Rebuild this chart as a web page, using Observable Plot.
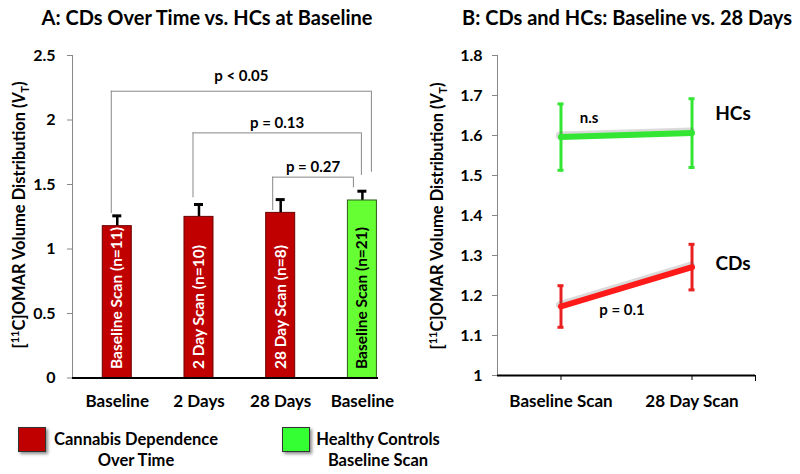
<!DOCTYPE html>
<html><head><meta charset="utf-8">
<script src="https://cdn.jsdelivr.net/npm/d3@7"></script>
<script src="https://cdn.jsdelivr.net/npm/@observablehq/plot@0.6"></script>
<style>
body{margin:0;background:#fff;font-family:Lato,sans-serif;color:#000;}
#wrap{position:relative;width:800px;height:474px;overflow:hidden;}
.abs{position:absolute;}
.title{font-weight:bold;font-size:20px;line-height:20px;white-space:nowrap;transform:translateX(-50%);}
.ylab{font-weight:bold;font-size:16.5px;line-height:16px;white-space:nowrap;transform:translate(-50%,-50%) rotate(-90deg);}
.ylab sup,.ylab sub{font-size:11px;line-height:0;}
.sw{width:26px;height:23px;border:1px solid #333;box-shadow:2px 2px 3px rgba(0,0,0,0.45);}
.leg{font-weight:bold;font-size:16.5px;line-height:21px;text-align:center;white-space:nowrap;transform:translateX(-50%);}
#pa,#pb{position:absolute;top:0;}
#pa{left:0;} #pb{left:400px;}
</style>
</head><body>
<div id="wrap">
  <div class="abs title" style="left:207px;top:7px;">A: CDs Over Time vs. HCs at Baseline</div>
  <div class="abs title" style="left:627px;top:7px;">B: CDs and HCs: Baseline vs. 28 Days</div>
  <div id="pa"></div>
  <div id="pb"></div>
  <div class="abs ylab" style="left:19px;top:215px;">[<sup>11</sup>C]OMAR Volume Distribution (<i>V</i><sub>T</sub>)</div>
  <div class="abs ylab" style="left:437px;top:216px;">[<sup>11</sup>C]OMAR Volume Distribution (<i>V</i><sub>T</sub>)</div>
  <div class="abs sw" style="left:18px;top:427px;background:#c00000;"></div>
  <div class="abs leg" style="left:136px;top:429px;">Cannabis Dependence<br>Over Time</div>
  <div class="abs sw" style="left:282px;top:427px;background:#33ff33;"></div>
  <div class="abs leg" style="left:378px;top:429px;">Healthy Controls<br>Baseline Scan</div>
</div>
<script>
// ---------- Panel A data ----------
const keysA = ["cd0", "cd2", "cd28", "hc0"];
const tickLabelsA = ["Baseline", "2 Days", "28 Days", "Baseline"];
const barLabelsA = ["Baseline Scan (n=11)", "2 Day Scan (n=10)", "28 Day Scan (n=8)", "Baseline Scan (n=21)"];
const groupA = ["CD", "CD", "CD", "HC"];
const meanA = [1.177, 1.249, 1.28, 1.376];
const semA = [0.08, 0.096, 0.103, 0.072];
const yTicksA = [0, 0.5, 1, 1.5, 2, 2.5];

const sigLabels = ["p < 0.05", "p = 0.13", "p = 0.27"];
const sigFrom = ["cd0", "cd2", "cd28"];
const sigTo = ["hc0", "hc0", "hc0"];
const sigTop = [2.223, 1.90, 1.557];
const sigLeftEnd = [1.275, 1.397, 1.298];
const sigRightEnd = [1.595, 1.57, 1.474];
const sigLabelY = [2.337, 1.975, 1.634];

// ---------- Panel B data ----------
const scansB = ["Baseline Scan", "28 Day Scan"];
const hcMean = [1.596, 1.606];
const hcSem = [0.083, 0.086];
const cdMean = [1.1725, 1.271];
const cdSem = [0.052, 0.057];
const yTicksB = [1, 1.1, 1.2, 1.3, 1.4, 1.5, 1.6, 1.7, 1.8];

const fmt = d => String(d);

// ---------- Panel A ----------
const barsA = keysA.map((k, i) => ({key: k, label: barLabelsA[i], group: groupA[i], mean: meanA[i], top: meanA[i] + semA[i]}));
const sigs = sigLabels.map((l, i) => ({label: l, from: sigFrom[i], to: sigTo[i], top: sigTop[i], leftEnd: sigLeftEnd[i], rightEnd: sigRightEnd[i], labelY: sigLabelY[i]}));

const WA = 400, HA = 420, mlA = 72, mrA = 22, mtA = 55, mbA = 42.5;
const padIn = 0.645, padOut = 0.195, alignA = 0.95;
const xA = d3.scaleBand(keysA, [mlA, WA - mrA]).paddingInner(padIn).paddingOuter(padOut).align(alignA);
const bw = xA.bandwidth();
const dL = [-6, -6, -8], dR = [9, -1, -9];
const colA = {CD: "#c00000", HC: "#66ff33"};
const strokeA = {CD: "#6b0000", HC: "#2d5a1a"};

const marksA = [
  Plot.frame({anchor: "left", stroke: "#888"}),
  Plot.axisY({ticks: yTicksA, tickFormat: fmt, tickSize: 5, tickPadding: 12, fontSize: 16, fontWeight: "bold", stroke: "#888", fill: "black", label: null}),
  Plot.axisX({tickSize: 0, tickPadding: 17, fontSize: 17, fontWeight: "bold", fill: "black", label: null, tickFormat: k => tickLabelsA[keysA.indexOf(k)]}),
  Plot.ruleX(barsA, {x: "key", y1: "mean", y2: "top", stroke: "black", strokeWidth: 2.5}),
  Plot.tickY(barsA, {x: "key", y: "top", stroke: "black", strokeWidth: 3, insetLeft: (bw - 9) / 2, insetRight: (bw - 9) / 2}),
  Plot.barY(barsA, {x: "key", y: "mean", fill: d => colA[d.group], stroke: d => strokeA[d.group], strokeWidth: 1}),
  Plot.text(barsA, {x: "key", y: 0, text: "label", rotate: -90, textAnchor: "start", lineAnchor: "middle", dy: -9, fontSize: 15.5, fontWeight: "bold", fill: d => d.group === "CD" ? "white" : "black"}),
  Plot.ruleY([0], {stroke: "black", strokeWidth: 2})
];
sigs.forEach((s, i) => {
  marksA.push(Plot.ruleX([s], {x: "from", y1: "leftEnd", y2: "top", dx: dL[i], stroke: "#888", strokeWidth: 1}));
  marksA.push(Plot.ruleX([s], {x: "to", y1: "rightEnd", y2: "top", dx: dR[i], stroke: "#888", strokeWidth: 1}));
  marksA.push(Plot.ruleY([s], {x1: "from", x2: "to", y: "top", insetLeft: bw / 2 + dL[i], insetRight: bw / 2 - dR[i], stroke: "#888", strokeWidth: 1}));
  const mid = ((xA(s.to) + dR[i]) - (xA(s.from) + dL[i])) / 2 + dL[i];
  marksA.push(Plot.text([s], {x: "from", y: "labelY", text: "label", dx: mid, fontSize: 15, fontWeight: "bold", fill: "black"}));
});

const plotA = Plot.plot({
  width: WA, height: HA,
  marginLeft: mlA, marginRight: mrA, marginTop: mtA, marginBottom: mbA,
  style: {fontFamily: "Lato, sans-serif", background: "transparent", overflow: "visible"},
  x: {type: "band", domain: keysA, paddingInner: padIn, paddingOuter: padOut, align: alignA, round: false},
  y: {domain: [0, 2.5]},
  marks: marksA
});
document.getElementById("pa").appendChild(plotA);

// ---------- Panel B ----------
const hcRows = scansB.map((s, i) => ({scan: s, mean: hcMean[i], lo: hcMean[i] - hcSem[i], hi: hcMean[i] + hcSem[i]}));
const cdRows = scansB.map((s, i) => ({scan: s, mean: cdMean[i], lo: cdMean[i] - cdSem[i], hi: cdMean[i] + cdSem[i]}));
const hcCol = "#33e633", cdCol = "#ff1a1a", cdErr = "#e82020";

function series(rows, col, errCol) {
  return [
    Plot.ruleX(rows, {x: "scan", y1: "lo", y2: "hi", stroke: errCol, strokeWidth: 3}),
    Plot.tickY(rows, {x: "scan", y: "lo", stroke: errCol, strokeWidth: 3}),
    Plot.tickY(rows, {x: "scan", y: "hi", stroke: errCol, strokeWidth: 3}),
    Plot.lineY(rows, {x: "scan", y: "mean", stroke: "#555", strokeOpacity: 0.22, strokeWidth: 8, dx: -1, dy: -1.5}),
    Plot.lineY(rows, {x: "scan", y: "mean", stroke: col, strokeWidth: 6})
  ];
}

const plotB = Plot.plot({
  width: 400, height: 420,
  marginLeft: 97, marginRight: 45, marginTop: 55, marginBottom: 45,
  style: {fontFamily: "Lato, sans-serif", background: "transparent", overflow: "visible"},
  x: {type: "band", domain: scansB, paddingInner: 0.954, paddingOuter: 0.4615, round: false},
  y: {domain: [1, 1.8]},
  marks: [
    Plot.frame({anchor: "left", stroke: "#888"}),
    Plot.frame({anchor: "right", stroke: "black", insetBottom: -5, insetTop: 320}),
    Plot.axisY({ticks: yTicksB, tickFormat: fmt, tickSize: 5, tickPadding: 10, fontSize: 16, fontWeight: "bold", stroke: "#888", fill: "black", label: null}),
    Plot.axisX({tickSize: 5, tickPadding: 14, fontSize: 17, fontWeight: "bold", stroke: "black", fill: "black", label: null}),
    ...series(hcRows, hcCol, hcCol),
    ...series(cdRows, cdCol, cdErr),
    Plot.ruleY([1], {stroke: "black", strokeWidth: 2}),
    Plot.text([{scan: scansB[1], y: 1.655, t: "HCs"}], {x: "scan", y: "y", text: "t", dx: 41, fontSize: 19, fontWeight: "bold", fill: "black"}),
    Plot.text([{scan: scansB[1], y: 1.28, t: "CDs"}], {x: "scan", y: "y", text: "t", dx: 41, fontSize: 19, fontWeight: "bold", fill: "black"}),
    Plot.text([{scan: scansB[0], y: 1.6425, t: "n.s"}], {x: "scan", y: "y", text: "t", dx: 28, fontSize: 15, fontWeight: "bold", fill: "black"}),
    Plot.text([{scan: scansB[0], y: 1.1625, t: "p = 0.1"}], {x: "scan", y: "y", text: "t", dx: 61, fontSize: 15, fontWeight: "bold", fill: "black"})
  ]
});
document.getElementById("pb").appendChild(plotB);
</script>
</body></html>
